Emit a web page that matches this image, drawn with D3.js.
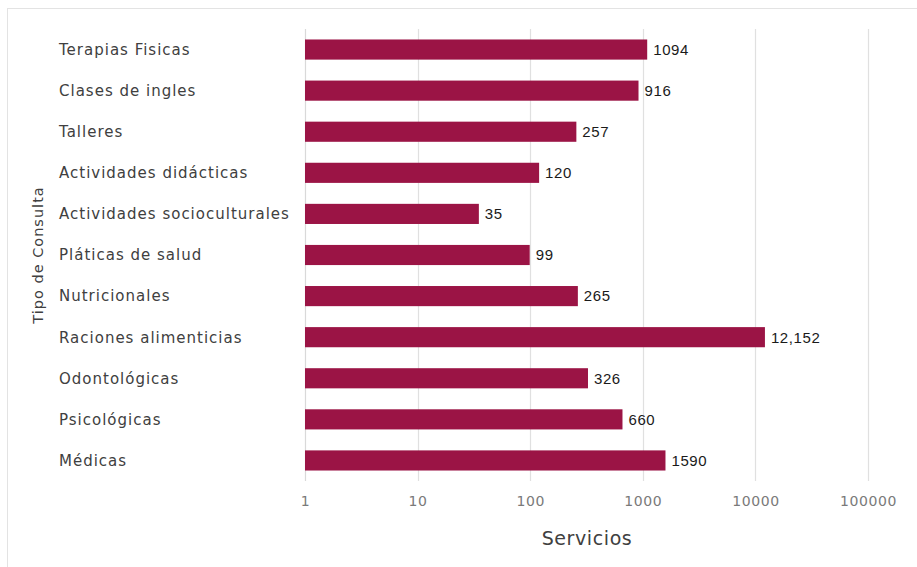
<!DOCTYPE html>
<html><head><meta charset="utf-8">
<script src="https://cdn.jsdelivr.net/npm/d3@7"></script>
<style>body{margin:0;background:#fff}</style>
</head><body>
<svg id="c" width="917" height="567"></svg>
<script>
const categories = ["Terapias Fisicas","Clases de ingles","Talleres","Actividades didácticas","Actividades socioculturales","Pláticas de salud","Nutricionales","Raciones alimenticias","Odontológicas","Psicológicas","Médicas"];
const values = [1094, 916, 257, 120, 35, 99, 265, 12152, 326, 660, 1590];
const valueLabels = ["1094","916","257","120","35","99","265","12,152","326","660","1590"];
const tickValues = [1, 10, 100, 1000, 10000, 100000];
const tickLabels = ["1","10","100","1000","10000","100000"];

(function(){
const svg = d3.select("#c");
svg.append("rect").attr("x",7.5).attr("y",8.5).attr("width",930).attr("height",580)
  .attr("fill","none").attr("stroke","#e3e3e3").attr("stroke-width",1);

const pL = 305, pR = 868, pT = 29, pB = 481;
const x = d3.scaleLog().domain([1,100000]).range([pL,pR]);
const y = d3.scaleBand().domain(categories).range([pT,pB]).paddingInner(0.51).paddingOuter(0.255);

svg.append("g").selectAll("line").data(tickValues.slice(1)).join("line")
  .attr("x1",d=>Math.round(x(d))+0.5).attr("x2",d=>Math.round(x(d))+0.5)
  .attr("y1",pT).attr("y2",pB).attr("stroke","#e0e0e0").attr("stroke-width",1.2);
svg.append("line").attr("x1",pL+0.5).attr("x2",pL+0.5).attr("y1",pT).attr("y2",pB)
  .attr("stroke","#d9d9d9").attr("stroke-width",1.2);

const xa = d3.axisBottom(x).tickValues(tickValues).tickFormat((d,i)=>tickLabels[i]).tickSize(0).tickPadding(15);
const gx = svg.append("g").attr("transform",`translate(0,${pB})`).call(xa);
gx.select(".domain").remove();
gx.selectAll("text").attr("font-family","'DejaVu Sans', sans-serif").attr("font-size",14)
  .attr("letter-spacing",0.6).attr("fill","#7a7a7a");

svg.append("g").selectAll("rect").data(categories).join("rect")
  .attr("x",x(1)).attr("y",d=>y(d)).attr("height",y.bandwidth())
  .attr("width",(d,i)=>x(values[i])-x(1)).attr("fill","#9b1445");

svg.append("g").selectAll("text").data(categories).join("text")
  .attr("x",(d,i)=>x(values[i])+6).attr("y",d=>y(d)+y.bandwidth()/2).attr("dy","0.36em")
  .attr("font-family","'Liberation Sans',sans-serif").attr("font-size",15).attr("letter-spacing",0.6)
  .attr("fill","#1a1a1a").text((d,i)=>valueLabels[i]);

svg.append("g").selectAll("text").data(categories).join("text")
  .attr("x",59).attr("y",d=>y(d)+y.bandwidth()/2).attr("dy","0.36em")
  .attr("font-family","'DejaVu Sans', sans-serif").attr("font-size",15).attr("letter-spacing",1)
  .attr("fill","#404040").text(d=>d);

svg.append("text").attr("x",587).attr("y",545).attr("text-anchor","middle")
  .attr("font-family","'DejaVu Sans', sans-serif").attr("font-size",19).attr("letter-spacing",0.6)
  .attr("fill","#404040").text("Servicios");
svg.append("text").attr("transform","translate(43,255) rotate(-90)").attr("text-anchor","middle")
  .attr("font-family","'DejaVu Sans', sans-serif").attr("font-size",14.5).attr("letter-spacing",1)
  .attr("fill","#404040").text("Tipo de Consulta");
})();
</script>
</body></html>
